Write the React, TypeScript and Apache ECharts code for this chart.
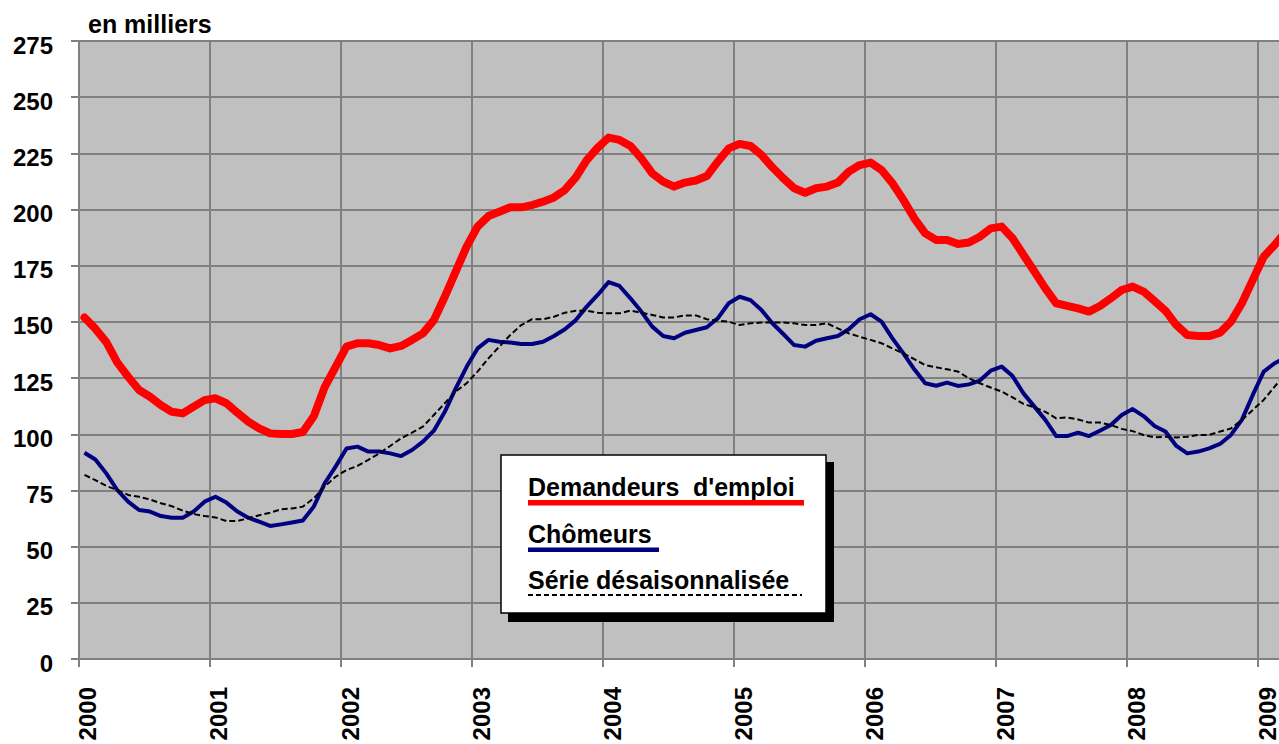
import React, { useEffect, useRef } from 'react';
import * as echarts from 'echarts';

const START_YEAR = 2000;
const MONTH_COUNT = 111;
const categories: string[] = Array.from({ length: MONTH_COUNT }, (_, i) =>
  `${START_YEAR + Math.floor(i / 12)}-${String((i % 12) + 1).padStart(2, '0')}`
);

const yTicks = { min: 0, max: 275, interval: 25 };

const legendNames = ['Demandeurs d\'emploi', 'Chômeurs', 'Série désaisonnalisée'];

const demandeurs: number[] = [
  152, 147, 141, 132, 125.6, 119.7, 116.7, 113, 110, 109.3, 112.3, 115.2,
  116, 113.8, 109.6, 105.6, 102.6, 100.4, 100.1, 100.1, 101, 108, 121, 130,
  139, 140.5, 140.5, 139.7, 138.2, 139.3, 142, 144.9, 150.8, 161.2, 172.4, 183.5,
  192.4, 197.1, 199, 201, 201, 202, 203.5, 205.4, 208.7, 214.3, 222, 227.5,
  232, 231, 228.3, 222.8, 216.1, 212.4, 210.2, 212, 212.9, 214.9, 221.3, 227.2,
  229.2, 228.3, 224.3, 218.8, 213.9, 209.5, 207.5, 209.5, 210.2, 212, 216.9, 219.8,
  220.9, 217.6, 211.7, 204.3, 196.1, 189.4, 186.5, 186.5, 184.7, 185.3, 187.9, 191.6,
  192.4, 187.2, 179.8, 172.4, 164.9, 158.3, 157.1, 156, 154.6, 157.1, 160.5, 164.2,
  165.7, 163.5, 159.3, 155, 148.6, 144.2, 143.7, 143.7, 145.2, 150.1, 158.3, 168.7,
  179, 184.2, 190,
];

const chomeurs: number[] = [
  91.8, 88.8, 82.6, 75.2, 70, 66.3, 65.6, 63.6, 62.9, 62.9, 65.6, 70,
  72.2, 69.6, 65.6, 62.9, 61.1, 59.2, 59.9, 60.7, 61.6, 67.8, 78.2, 85.6,
  93.7, 94.5, 92.3, 92.3, 91.5, 90.3, 93, 96.7, 101.6, 110, 120.4, 130,
  138.2, 142, 141.2, 140.8, 140.2, 140.2, 141.2, 143.7, 146.7, 150.8, 156.8, 162,
  167.7, 166, 160.5, 154.6, 147.9, 143.7, 142.7, 145.2, 146.4, 147.6, 151.6, 158.3,
  161.2, 159.7, 155.3, 149.4, 144.6, 139.7, 139, 141.6, 142.7, 143.7, 146.7, 151.2,
  153.4, 150.1, 142.7, 136, 128.9, 122.7, 121.6, 123, 121.5, 122.2, 123.9, 128.3,
  130.1, 125.9, 118.2, 112.3, 106.4, 99.2, 99.2, 100.7, 99.2, 101.6, 104.1, 108.6,
  111.2, 108.1, 103.7, 101.2, 94.8, 91.5, 92.3, 93.7, 95.7, 99.7, 106.4, 117.5,
  127.9, 131.6, 134,
];

const desaisonnalisee: number[] = [
  81.9, 79.6, 77, 75.2, 73, 72.2, 71, 69.3, 68, 66, 64.5, 63.6,
  63, 61.4, 61.4, 62.6, 64, 65.1, 66.6, 67, 67.8, 71.5, 76.7, 81.1,
  84.1, 85.9, 88.6, 91.5, 94.8, 98.2, 100.7, 103.4, 108.6, 113.8, 119, 122.7,
  127.9, 133.8, 139, 144.2, 148.6, 151.2, 151.2, 152.3, 154.1, 155, 155, 154.1,
  153.8, 153.8, 155, 154.1, 153.1, 152, 152, 152.9, 152.9, 151.2, 150.6, 150.1,
  148.6, 149.4, 149.7, 149.7, 149.7, 149.4, 148.6, 148.6, 149.4, 147.1, 144.9, 143.4,
  142, 140.5, 138.2, 136, 133.4, 130.8, 129.8, 128.9, 127.9, 124.9, 122.7, 120.8,
  119, 116.4, 113.5, 112, 110, 107.1, 107.5, 106.6, 105.2, 105.2, 104.1, 102.4,
  101.4, 99.7, 98.6, 98.9, 98.6, 98.9, 99.7, 99.7, 101.2, 102.6, 106.4, 110.8,
  115.3, 121.2, 127,
];

const FONT = '"Liberation Sans", Arial, Helvetica, sans-serif';
const GRID_COLOR = '#808080';
const isYearStart = (i: number) => i % 12 === 0;

export default function App() {
  const ref = useRef<HTMLDivElement>(null);

  useEffect(() => {
    if (!ref.current) return;
    const chart = echarts.init(ref.current, null, { renderer: 'svg' });
    const legendFont = `bold 25px ${FONT}`;
    const txt = (text: string, x: number, y: number, font: string) => ({
      type: 'text',
      z: 100,
      style: {
        text, x, y, font, fill: '#000',
        align: 'left', verticalAlign: 'middle',
        textAlign: 'left', textVerticalAlign: 'middle',
      },
    });
    const option: any = {
      animation: false,
      backgroundColor: '#ffffff',
      grid: {
        left: 79, right: 0, top: 41, bottom: 85,
        show: true, backgroundColor: '#C0C0C0', borderWidth: 0,
      },
      xAxis: {
        type: 'category',
        data: categories,
        boundaryGap: true,
        axisLine: { show: true, lineStyle: { color: GRID_COLOR, width: 2 } },
        axisTick: {
          show: true, length: 8, interval: (i: number) => isYearStart(i),
          lineStyle: { color: GRID_COLOR, width: 2 },
        },
        axisLabel: {
          interval: (i: number) => isYearStart(i),
          formatter: (v: string) => v.slice(0, 4),
          rotate: 90,
          margin: 28,
          fontSize: 24,
          fontWeight: 'bold',
          fontFamily: FONT,
          color: '#000',
          verticalAlign: 'top',
          lineHeight: 7,
        },
        splitLine: {
          show: true, interval: (i: number) => isYearStart(i),
          lineStyle: { color: GRID_COLOR, width: 2 },
        },
      },
      yAxis: {
        type: 'value',
        min: yTicks.min, max: yTicks.max, interval: yTicks.interval,
        axisLine: { show: true, lineStyle: { color: GRID_COLOR, width: 2 } },
        axisTick: { show: true, length: 8, lineStyle: { color: GRID_COLOR, width: 2 } },
        axisLabel: {
          margin: 26, fontSize: 24, fontWeight: 'bold', fontFamily: FONT, color: '#000',
          verticalAlign: 'top', lineHeight: 8,
        },
        splitLine: { show: true, lineStyle: { color: GRID_COLOR, width: 2 } },
      },
      series: [
        {
          name: legendNames[0], type: 'line', data: demandeurs, symbol: 'none',
          lineStyle: { color: '#FF0000', width: 8, join: 'round', cap: 'round' }, z: 3,
        },
        {
          name: legendNames[1], type: 'line', data: chomeurs, symbol: 'none',
          lineStyle: { color: '#000080', width: 4, join: 'round' }, z: 4,
        },
        {
          name: legendNames[2], type: 'line', data: desaisonnalisee, symbol: 'none',
          lineStyle: { color: '#000000', width: 2, type: [6, 3] }, z: 5,
        },
      ],
      graphic: [
        txt('en milliers', 88, 24, `bold 25px ${FONT}`),
        { type: 'rect', z: 100, shape: { x: 508, y: 462, width: 326, height: 160 }, style: { fill: '#000' } },
        { type: 'rect', z: 101, shape: { x: 501, y: 455, width: 325, height: 158 }, style: { fill: '#fff', stroke: '#000', lineWidth: 1.5 } },
        { ...txt('Demandeurs', 528, 487, legendFont), z: 102 },
        { ...txt('d\'emploi', 693, 487, legendFont), z: 102 },
        { type: 'line', z: 102, shape: { x1: 528, y1: 502.8, x2: 804, y2: 502.8 }, style: { stroke: '#FF0000', lineWidth: 5.5 } },
        { ...txt(legendNames[1], 528, 533.5, legendFont), z: 102 },
        { type: 'line', z: 102, shape: { x1: 528, y1: 549.7, x2: 659, y2: 549.7 }, style: { stroke: '#000080', lineWidth: 4.5 } },
        { ...txt(legendNames[2], 528, 579.5, legendFont), z: 102 },
        { type: 'line', z: 102, shape: { x1: 528, y1: 595, x2: 802, y2: 595 }, style: { stroke: '#000', lineWidth: 2, lineDash: [5, 3] } },
      ],
    };
    chart.setOption(option);
    return () => chart.dispose();
  }, []);

  return (
    <div style={{ position: 'absolute', left: 0, top: 0, width: 1279, height: 744, overflow: 'hidden' }}>
      <div ref={ref} style={{ width: 1291, height: 744 }} />
    </div>
  );
}
